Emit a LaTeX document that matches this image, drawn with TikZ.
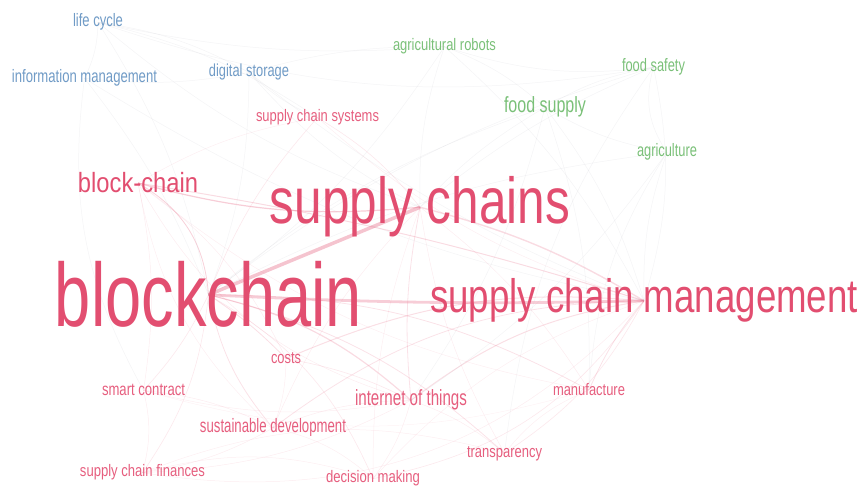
\documentclass[tikz,border=0pt]{standalone}
\usepackage{fontspec}
\setmainfont{Liberation Sans}
\usetikzlibrary{backgrounds}
\definecolor{cR}{RGB}{226,78,112}
\definecolor{cRl}{RGB}{230,94,126}
\definecolor{cB}{RGB}{112,155,198}
\definecolor{cG}{RGB}{122,192,120}
\definecolor{eR}{RGB}{226,76,110}
\definecolor{eGr}{RGB}{175,175,185}
\newcommand\lbl[7]{\node[anchor=base, inner sep=0pt, outer sep=0pt, text=#6, font=\fontsize{#4}{#4}\selectfont] (#1) at (#2,#3) {\resizebox{#5pt}{\height}{#7}};}
\begin{document}
\begin{tikzpicture}[x=1pt,y=-1pt]
\useasboundingbox (0,0) rectangle (863,494);
% labels
\lbl{lc}{98}{27}{18}{50}{cB}{life cycle}
\lbl{im}{84.5}{83}{18}{145}{cB}{information management}
\lbl{ds}{249}{77}{17.4}{80}{cB}{digital storage}
\lbl{ar}{444.5}{51}{16.7}{103}{cG}{agricultural robots}
\lbl{fsaf}{653.5}{72}{18}{63}{cG}{food safety}
\lbl{fsup}{545}{113}{22}{82}{cG}{food supply}
\lbl{agr}{667}{157}{18}{60}{cG}{agriculture}
\lbl{scs}{317.5}{122}{16.7}{123}{cRl}{supply chain systems}
\lbl{bch}{138}{193}{27.8}{120}{cR}{block-chain}
\lbl{sc}{420}{224}{65}{300}{cR}{supply chains}
\lbl{bc}{208.5}{327}{90}{307}{cR}{blockchain}
\lbl{scm}{644}{313}{47}{428}{cR}{supply chain management}
\lbl{cost}{286}{364}{17}{30}{cRl}{costs}
\lbl{smc}{143.5}{396}{17.5}{83}{cRl}{smart contract}
\lbl{iot}{411}{406}{22}{112}{cRl}{internet of things}
\lbl{sd}{273}{433}{19.4}{146}{cRl}{sustainable development}
\lbl{tr}{504.5}{457}{17}{75}{cRl}{transparency}
\lbl{scf}{142.5}{477}{16.7}{125}{cRl}{supply chain finances}
\lbl{dm}{373}{483}{16.7}{94}{cRl}{decision making}
\lbl{man}{589}{396}{16.7}{72}{cRl}{manufacture}
\begin{scope}[on background layer]
% red links
\foreach \a/\b/\bd/\w/\op in {
 bc/sc/0/3.5/0.33, bc/scm/-2/2.8/0.28, sc/scm/8/1.4/0.2,
 bch/sc/-10/1.2/0.28, bch/scm/4/1/0.2, bch/bc/28/0.8/0.26,
 bc/iot/14/1.2/0.2, sc/iot/-8/0.8/0.16, scm/iot/-14/1/0.18,
 bc/cost/6/0.8/0.18, cost/scm/14/1/0.18, cost/iot/8/0.6/0.13,
 bc/smc/8/0.6/0.13, bc/scf/14/0.6/0.13, bc/sd/-14/0.8/0.16,
 bc/dm/18/0.6/0.13, bc/tr/14/0.8/0.16, bc/man/14/0.8/0.16,
 scm/man/-8/0.8/0.16, scm/tr/14/0.6/0.13, scm/sd/-18/0.8/0.16,
 scm/dm/22/0.6/0.13, sc/scs/-10/0.6/0.13, bc/scs/10/0.6/0.13,
 sc/tr/-10/0.5/0.1, sc/man/10/0.5/0.1, sc/sd/-10/0.5/0.1,
 smc/scf/14/0.5/0.1, smc/sd/10/0.5/0.1, scf/sd/-10/0.5/0.1,
 scf/iot/-12/0.5/0.1, iot/tr/10/0.5/0.1, iot/dm/10/0.5/0.1,
 sd/iot/10/0.5/0.1, bch/iot/-22/0.5/0.1, bch/cost/14/0.5/0.1,
 bch/smc/10/0.5/0.1, scm/scf/28/0.5/0.1, scf/tr/18/0.5/0.09,
 smc/iot/-12/0.5/0.09, sd/dm/14/0.5/0.09, man/tr/-14/0.5/0.09,
 bch/scs/10/0.5/0.09, scs/scm/-12/0.5/0.09, cost/sd/10/0.5/0.09,
 bch/sd/-18/0.5/0.09, bch/man/-14/0.5/0.09, smc/man/-16/0.5/0.07,
 scf/dm/16/0.5/0.09, dm/scm/14/0.5/0.09, sc/dm/-10/0.5/0.09}
 \draw[draw=eR, line width=\w, opacity=\op] (\a.center) to[bend left=\bd] (\b.center);
% grey links
\foreach \a/\b/\bd in {
 lc/im/12, lc/ds/10, im/ds/-8, lc/bc/10, im/bc/8, ds/sc/-10, ds/bc/10,
 lc/sc/-10, ar/fsup/10, ar/sc/-10, ar/bc/10, fsup/agr/-10, fsup/fsaf/10,
 fsaf/agr/-25, fsup/sc/-8, fsup/scm/10, fsup/bc/-10, agr/scm/-10,
 fsaf/scm/14, agr/bc/-10, fsaf/sc/-8, lc/fsaf/-14, im/scm/-10,
 ds/scm/-8, ar/scm/10, fsup/iot/10, agr/iot/10, fsaf/bc/-10,
 lc/scs/10, ds/scs/-10, im/smc/-18, ar/ds/-8, ar/fsaf/-12, lc/ar/-8,
 agr/man/-14, fsup/man/10, fsaf/tr/-14}
 \draw[draw=eGr, line width=0.5, opacity=0.14] (\a.center) to[bend left=\bd] (\b.center);
\end{scope}
\end{tikzpicture}
\end{document}
